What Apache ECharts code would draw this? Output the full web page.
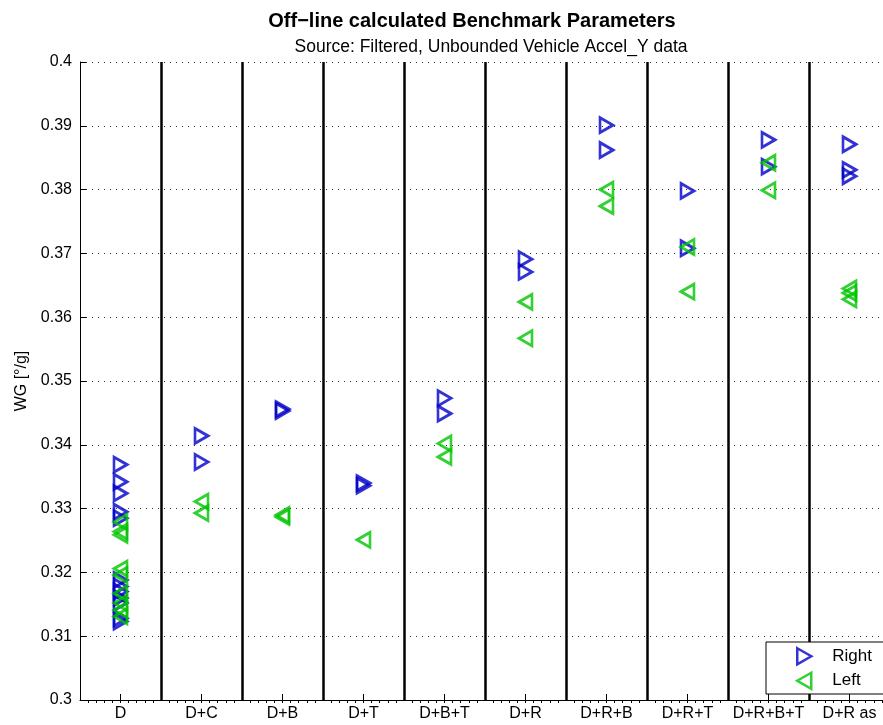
<!DOCTYPE html>
<html><head><meta charset="utf-8">
<script src="https://cdn.jsdelivr.net/npm/echarts@6/dist/echarts.min.js"></script>
<style>html,body{margin:0;padding:0;background:#fff}#c{width:883px;height:725px}</style>
</head><body><div id="c"></div>
<script>
const categories = ['D','D+C','D+B','D+T','D+B+T','D+R','D+R+B','D+R+T','D+R+B+T','D+R as'];
const rightValues = [
  [0.3369,0.3342,0.3324,0.3295,0.3285,0.3188,0.3178,0.3170,0.3160,0.3152,0.3128,0.3123],
  [0.3414,0.3373],
  [0.3456,0.3453],
  [0.3340,0.3336],
  [0.3473,0.3449],
  [0.3691,0.3671],
  [0.3901,0.3862],
  [0.3798,0.3708],
  [0.3878,0.3836],
  [0.3871,0.3831,0.3821]
];
const leftValues = [
  [0.3279,0.3264,0.3259,0.3206,0.3196,0.3167,0.3152,0.3141,0.3131],
  [0.3311,0.3293],
  [0.3290,0.3287],
  [0.3251],
  [0.3402,0.3381],
  [0.3624,0.3567],
  [0.3800,0.3774],
  [0.3710,0.3640],
  [0.3842,0.3799],
  [0.3645,0.3638,0.3628]
];
const yTicks = {min:0.3, max:0.4, interval:0.01};

function toPoints(vals){
  const out=[];
  vals.forEach((arr,i)=>arr.forEach(v=>out.push([categories[i], v])));
  return out;
}
const FONT='Liberation Sans';
const BLUE='#0000c8', GREEN='#00c400';
const chart = echarts.init(document.getElementById('c'), null, {renderer:'canvas'});
chart.setOption({
  animation:false,
  backgroundColor:'#fff',
  title:[
    {text:'Off\u2212line calculated Benchmark Parameters', left:467, top:6, textAlign:'center',
     textStyle:{fontFamily:FONT, fontSize:20, fontWeight:'bold', color:'#000'}},
    {text:'Source: Filtered, Unbounded Vehicle Accel_Y data', left:486, top:33, textAlign:'center',
     textStyle:{fontFamily:FONT, fontSize:17.5, fontWeight:'normal', color:'#000'}}
  ],
  grid:{left:80, top:62, bottom:25, width:810, containLabel:false, outerBoundsMode:'none'},
  xAxis:[{
    type:'category', data:categories, boundaryGap:true,
    axisLine:{show:true, lineStyle:{color:'#000', width:1}},
    axisTick:{show:true, alignWithLabel:true, inside:true, length:6, lineStyle:{color:'#000'}},
    axisLabel:{fontFamily:FONT, fontSize:16, color:'#000', margin:6, interval:0},
    splitLine:{show:true, showMinLine:false, lineStyle:{color:'#000', width:2.5}}
  },{
    type:'value', min:0, max:10, interval:1, position:'bottom',
    axisLine:{show:false}, axisLabel:{show:false}, splitLine:{show:false},
    axisTick:{show:false},
    minorTick:{show:true, splitNumber:10, length:3, lineStyle:{color:'#000'}},
    minorSplitLine:{show:false}
  }],
  yAxis:{
    type:'value', min:yTicks.min, max:yTicks.max, interval:yTicks.interval,
    name:'WG [\u00B0/g]', nameLocation:'middle', nameGap:44, nameRotate:90,
    nameTextStyle:{fontFamily:FONT, fontSize:16, color:'#000'},
    axisLine:{show:true, lineStyle:{color:'#000', width:1}},
    axisTick:{show:true, inside:true, length:6, lineStyle:{color:'#000'}},
    axisLabel:{fontFamily:FONT, fontSize:16, color:'#000', margin:8,
      formatter:v=>String(parseFloat(v.toFixed(2)))},
    splitLine:{show:true, lineStyle:{color:'#333', width:1, type:[1,5]}}
  },
  legend:{
    orient:'vertical', left:766, top:642,
    backgroundColor:'#fff', borderColor:'#000', borderWidth:1,
    padding:[5,50,4,30], itemGap:6, itemWidth:14, itemHeight:16,
    textStyle:{fontFamily:FONT, fontSize:17, color:'#000', padding:[0,0,0,16]},
    data:[
      {name:'Right', icon:'path://M0,0L14,8L0,16Z', itemStyle:{color:'transparent', borderColor:BLUE, borderWidth:2.5}},
      {name:'Left', icon:'path://M14,0L0,8L14,16Z', itemStyle:{color:'transparent', borderColor:GREEN, borderWidth:2.5}}
    ]
  },
  series:[
    {name:'Right', type:'scatter', data:toPoints(rightValues), symbol:'triangle',
     symbolRotate:-90, symbolSize:[15,13],
     itemStyle:{color:'transparent', borderColor:BLUE, borderWidth:2.8},
     emphasis:{disabled:true}, z:3},
    {name:'Left', type:'scatter', data:toPoints(leftValues), symbol:'triangle',
     symbolRotate:90, symbolSize:[15,13],
     itemStyle:{color:'transparent', borderColor:GREEN, borderWidth:2.8},
     emphasis:{disabled:true}, z:4}
  ]
});
</script></body></html>
